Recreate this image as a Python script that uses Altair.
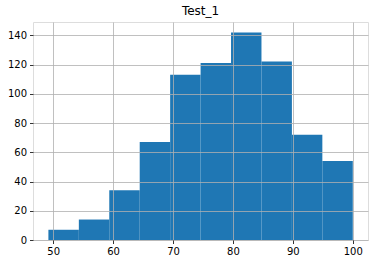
import altair as alt
import pandas as pd

bin_edges = [49.2, 54.28, 59.36, 64.44, 69.52, 74.6, 79.68, 84.76, 89.84, 94.92, 100.0]
counts = [7, 14, 34, 67, 113, 121, 142, 122, 72, 54]
x_ticks = [50, 60, 70, 80, 90, 100]
y_ticks = [0, 20, 40, 60, 80, 100, 120, 140]

df = pd.DataFrame({
    "left": bin_edges[:-1],
    "right": bin_edges[1:],
    "count": counts,
})

font = "DejaVu Sans"

xscale = alt.Scale(domain=[46.63, 102.54], nice=False, zero=False)
yscale = alt.Scale(domain=[0, 149.1], nice=False)

bars = alt.Chart(df).mark_rect(color="#1f77b4").encode(
    x=alt.X("left:Q", scale=xscale, axis=alt.Axis(
        values=x_ticks, title=None, grid=True, gridColor="#b0b0b0", gridWidth=0.8,
        tickColor="black", tickWidth=0.8, tickSize=3.5, domain=False,
        labelFont=font, labelFontSize=10, labelColor="black", labelPadding=3,
        zindex=1)),
    x2="right:Q",
    y=alt.Y("count:Q", scale=yscale, axis=alt.Axis(
        values=y_ticks, title=None, grid=True, gridColor="#b0b0b0", gridWidth=0.8,
        tickColor="black", tickWidth=0.8, tickSize=3.5, domain=False,
        labelFont=font, labelFontSize=10, labelColor="black", labelPadding=3,
        zindex=1)),
    y2=alt.datum(0),
)

chart = bars.properties(
    width=335,
    height=218,
    title=alt.TitleParams("Test_1", font=font, fontSize=12, fontWeight="normal",
                          color="black", offset=4),
    autosize=alt.AutoSizeParams(type="none"),
    padding={"left": 33, "top": 22, "right": 10, "bottom": 24},
).configure_view(stroke="black", strokeWidth=0.8).configure(background="white")

chart.save("out.html", embed_options={"renderer": "svg", "actions": False})
